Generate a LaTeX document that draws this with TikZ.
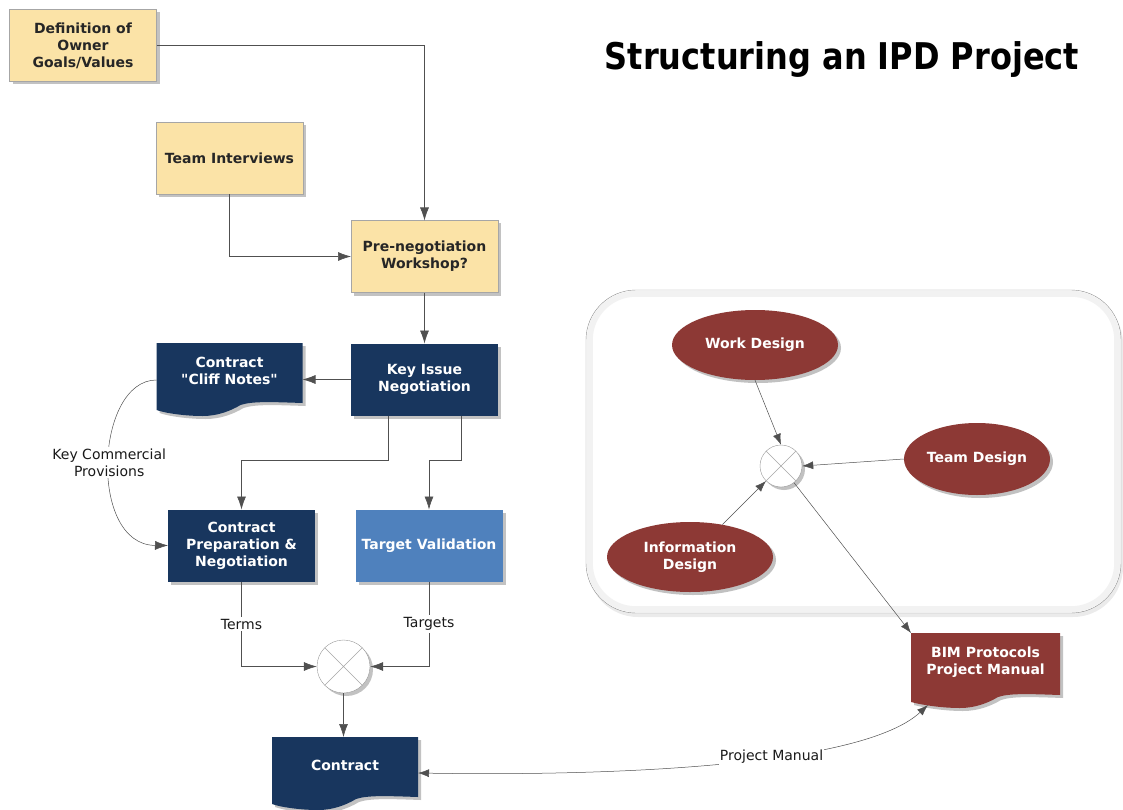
\documentclass[tikz,border=0pt]{standalone}
\usepackage{fontspec}
\setmainfont{DejaVu Sans}[Ligatures=TeXOff]
\usetikzlibrary{arrows.meta,shadows,backgrounds,shapes.geometric}
\definecolor{tanc}{RGB}{251,227,167}
\definecolor{navy}{RGB}{24,54,94}
\definecolor{tvblue}{RGB}{79,129,189}
\definecolor{maroon}{RGB}{141,57,53}
\definecolor{linec}{RGB}{80,80,80}
\tikzset{
  shad/.style={drop shadow={shadow xshift=3pt,shadow yshift=-3pt,opacity=0.4,fill=black!60}},
  box/.style={rectangle, minimum width=147pt, minimum height=72pt, align=center,
    font=\bfseries\fontsize{14}{17}\selectfont, inner sep=2pt, outer sep=0pt, shad},
  tanbox/.style={box, fill=tanc, draw=black!35, text=black!85},
  navybox/.style={box, fill=navy, text=white},
  bluebox/.style={box, fill=tvblue, text=white},
  docnode/.style={rectangle, minimum width=146pt, minimum height=56pt, align=center,
    font=\bfseries\fontsize{14}{17}\selectfont, inner sep=2pt, outer sep=0pt, text=white},
  oval/.style={ellipse, minimum width=166pt, minimum height=70pt, align=center, inner sep=1pt,
    fill=maroon, text=white, font=\bfseries\fontsize{14}{17}\selectfont, shad},
  junction/.style={circle, draw=black!40, fill=white, inner sep=0pt, shad},
  conn/.style={draw=linec, line width=0.6pt, -{Latex[length=13pt,width=9pt]}},
  connsm/.style={draw=linec, line width=0.5pt, -{Latex[length=11pt,width=8pt]}},
  lbl/.style={fill=white, inner sep=2pt, align=center, text=black!90,
    font=\fontsize{14}{17}\selectfont},
}
\newcommand{\drawdoc}[2]{%
  \fill[#2, shad] (#1.north west) -- (#1.north east) -- ([yshift=-4pt]#1.south east)
    .. controls ([xshift=-30pt,yshift=-3pt]#1.south east) and ([xshift=-50pt,yshift=-2pt]#1.south east) .. ([xshift=-62pt,yshift=-6pt]#1.south east)
    .. controls ([xshift=-72pt,yshift=-12pt]#1.south east) and ([xshift=-85pt,yshift=-17pt]#1.south east) .. ([xshift=-100pt,yshift=-17pt]#1.south east)
    .. controls ([xshift=-118pt,yshift=-17pt]#1.south east) and ([xshift=-138pt,yshift=-14pt]#1.south east) .. ([yshift=-11pt]#1.south west)
    -- cycle;}
\begin{document}
\begin{tikzpicture}[x=1pt,y=-1pt]
\useasboundingbox (0,0) rectangle (1123,810);

% title
\node[font=\bfseries\fontsize{32}{38}\selectfont] (title) at (842,59) {\scalebox{1}[1.15]{Structuring an IPD Project}};

% left flow
\node[tanbox] (def) at (83,45.5) {Definition of\\Owner\\Goals/Values};
\node[tanbox] (team) at (229.5,158.5) {Team Interviews};
\node[tanbox] (pre) at (424.5,256.5) {Pre-negotiation\\Workshop?};
\node[navybox] (key) at (424.5,379.5) {Key Issue\\Negotiation};
\node[docnode] (cliff) at (229.5,371) {Contract\\"Cliff Notes"};
\node[navybox] (prep) at (241.5,545.5) {Contract\\Preparation \&\\Negotiation};
\node[bluebox] (tv) at (429,545.5) {Target Validation};
\node[junction, minimum size=53pt] (j1) at (343.5,666.5) {};
\node[docnode] (contract) at (345,765) {Contract};

% right group frame
\node[rectangle, rounded corners=50pt, minimum width=535pt, minimum height=323pt,
  draw=black!45, fill=white, drop shadow={shadow xshift=2pt,shadow yshift=-4pt,opacity=0.2,fill=black!40}] (frame) at (853.5,451.5) {};
\draw[black!5, line width=6pt, rounded corners=46pt]
  ([shift={(4pt,-4pt)}]frame.north west) rectangle ([shift={(-4pt,4pt)}]frame.south east);

\node[oval] (wd) at (755,345) {Work Design};
\node[oval, minimum width=146pt, minimum height=72pt] (tdsn) at (977,459) {Team Design};
\node[oval] (idsn) at (690,557) {Information\\Design};
\node[junction, minimum size=42pt] (j2) at (781,466) {};
\node[docnode, minimum width=149pt, minimum height=58pt] (bim) at (985.5,662) {BIM Protocols\\Project Manual};

% document shapes behind their text
\begin{scope}[on background layer]
\drawdoc{cliff}{navy}
\drawdoc{contract}{navy}
\drawdoc{bim}{maroon}
\end{scope}

% crosses in junctions
\draw[black!35, line width=0.5pt] (j1.north west) -- (j1.south east) (j1.north east) -- (j1.south west);
\draw[black!35, line width=0.5pt] (j2.north west) -- (j2.south east) (j2.north east) -- (j2.south west);

% connectors
\draw[conn] (def.east) -| (pre.north);
\draw[conn] (team.south) |- (pre.west);
\draw[conn] (pre.south) -- (key.north);
\draw[conn] (key.west) -- (key.west -| cliff.east);
\draw[conn] ([xshift=-36.5pt]key.south) -- ++(0,45) -| (prep.north);
\draw[conn] ([xshift=36.5pt]key.south) -- ++(0,45) -| (tv.north);
\draw[conn, line width=0.5pt] ([yshift=-9pt]cliff.west) .. controls (95,380) and (88,545) .. (prep.west)
  node[lbl, pos=0.5] {Key Commercial\\Provisions};
\draw[conn] (prep.south) |- (j1.west) node[lbl, pos=0.25] {Terms};
\draw[conn] (tv.south) |- (j1.east) node[lbl, pos=0.25] {Targets};
\draw[conn] (j1.south) -- (j1.south |- contract.north);
\draw[connsm] (wd.south) -- (j2.north);
\draw[connsm] (tdsn.west) -- (j2.east);
\draw[connsm] (idsn) -- (j2);
\draw[connsm] (j2) -- (bim.north west);
\coordinate (pmend) at ([xshift=17pt,yshift=-14pt]bim.south west);
\draw[connsm, {Latex[length=11pt,width=8pt]}-{Latex[length=11pt,width=8pt]}] ([yshift=-8pt]contract.east)
  .. controls (600,776) and (860,768) .. (pmend)
  node[lbl, pos=0.6, inner sep=1pt] {Project Manual};
\end{tikzpicture}
\end{document}
